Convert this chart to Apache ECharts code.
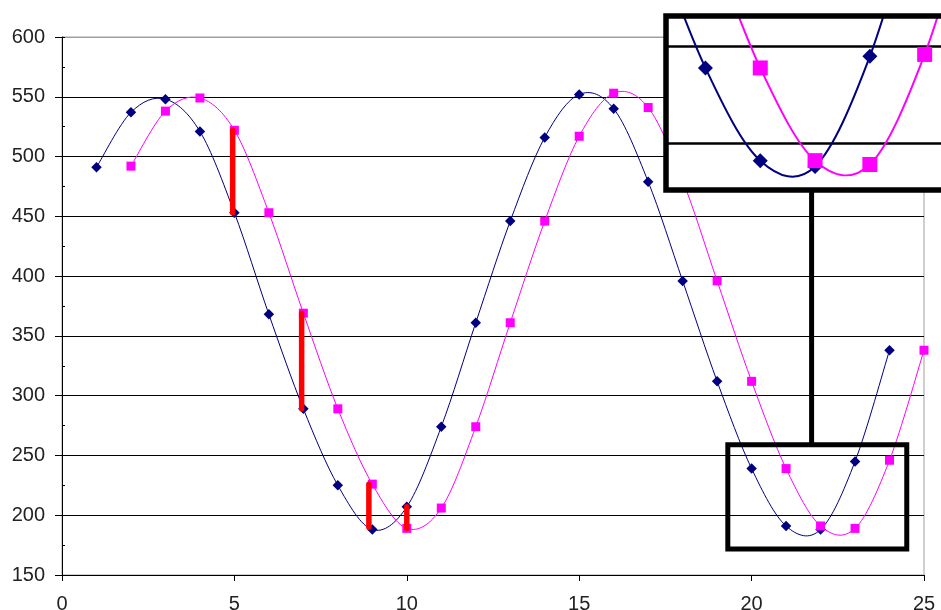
<!DOCTYPE html>
<html><head><meta charset="utf-8">
<script src="https://cdn.jsdelivr.net/npm/echarts@6/dist/echarts.min.js"></script>
<style>html,body{margin:0;padding:0;background:#fff}#c{width:941px;height:610px}</style>
</head><body><div id="c"></div>
<script>
// ---- data ----
const blueX = [1,2,3,4,5,6,7,8,9,10,11,12,13,14,15,16,17,18,19,20,21,22,23,24];
const blueValues = [491,537,548,521,453,368,289,225,188,207,274,361,446,516,552,540,479,396,312,239,191,188,245,338];
const pinkX = [2,3,4,5,6,7,8,9,10,11,12,13,14,15,16,17,18,19,20,21,22,23,24,25];
const pinkValues = [492,538,549,522,453,369,289,226,189,206,274,361,446,517,553,541,480,396,312,239,191,189,246,338];
// red gap bars: x position, low value, high value
const gapX = [4.95, 6.95, 8.9, 10.0];
const gapLow = [453, 289, 190, 189];
const gapHigh = [522, 369, 226, 207];
// axes
const xMin = 0, xMax = 25, xStep = 5;
const yMin = 150, yMax = 600, yStep = 50, yMinorStep = 25;
// zoomed window (data space) shown in the inset
const zoomX = [19.31, 24.5], zoomY = [171.7, 258.9];
const insetX = [19.28, 25], insetY = [175.8, 265.9];
const insetGridValues = [200, 250];
const connectorX = 21.74;

const blueData = blueX.map((x, i) => [x, blueValues[i]]);
const pinkData = pinkX.map((x, i) => [x, pinkValues[i]]);

const NAVY = '#000080', PINK = '#ff00ff';
const FONT = 'Liberation Sans, Arial, sans-serif';

const chart = echarts.init(document.getElementById('c'), null, {renderer: 'canvas'});

const insetLeft = 666, insetTop = 16, insetH = 174;
const insetW = (insetX[1] - insetX[0]) * 54.8;

const splitColors = [];
for (let v = yMin; v <= yMax; v += yStep) splitColors.push(v === yMax ? '#a0a0a0' : '#000');

// Excel-like smoothed line (Catmull-Rom segments through the axis scales)
function smoothLine(data, color, width, xi, yi, z) {
  return {
    type: 'custom', xAxisIndex: xi, yAxisIndex: yi, data: data, z: z, clip: true, silent: true,
    encode: {x: 0, y: 1},
    renderItem: function (params, api) {
      const i = params.dataIndex;
      if (i >= data.length - 1) return null;
      const P = k => api.coord(data[Math.max(0, Math.min(data.length - 1, k))]);
      const p0 = P(i - 1), p1 = P(i), p2 = P(i + 1), p3 = P(i + 2);
      return {
        type: 'bezierCurve',
        shape: {
          x1: p1[0], y1: p1[1], x2: p2[0], y2: p2[1],
          cpx1: p1[0] + (p2[0] - p0[0]) / 6, cpy1: p1[1] + (p2[1] - p0[1]) / 6,
          cpx2: p2[0] - (p3[0] - p1[0]) / 6, cpy2: p2[1] - (p3[1] - p1[1]) / 6
        },
        style: {stroke: color, lineWidth: width, fill: null}
      };
    }
  };
}
function markers(data, color, symbol, size, xi, yi, z) {
  return {type: 'scatter', xAxisIndex: xi, yAxisIndex: yi, data: data, symbol: symbol,
    symbolSize: size, itemStyle: {color: color, opacity: 1}, z: z, silent: true, clip: true};
}

const series = [
  smoothLine(blueData, NAVY, 1, 0, 0, 2),
  smoothLine(pinkData, PINK, 1, 0, 0, 2),
  markers(blueData, NAVY, 'diamond', 10.5, 0, 0, 3),
  markers(pinkData, PINK, 'rect', 9, 0, 0, 3)
];
gapX.forEach((x, i) => {
  series.push({type: 'line', xAxisIndex: 0, yAxisIndex: 0, data: [[x, gapLow[i]], [x, gapHigh[i]]],
    symbol: 'none', lineStyle: {color: '#ff0000', width: 5.5, cap: 'round'}, z: 4, silent: true});
});
// inset
series.push(smoothLine(blueData, NAVY, 2, 1, 2, 12));
series.push(smoothLine(pinkData, PINK, 2, 1, 2, 12));
const insetBlue = markers(blueData, NAVY, 'diamond', 15, 1, 2, 13);
insetBlue.markLine = {silent: true, symbol: 'none', z: 11, label: {show: false},
  lineStyle: {color: '#000', width: 2.5, type: 'solid'},
  data: insetGridValues.map(v => ({yAxis: v}))};
series.push(insetBlue);
series.push(markers(pinkData, PINK, 'rect', 15, 1, 2, 13));

const option = {
  animation: false,
  backgroundColor: '#fff',
  grid: [
    {left: 62, top: 37, right: 17, bottom: 35, show: true, borderColor: '#a0a0a0', borderWidth: 1, z: 0,
     outerBoundsMode: 'none', containLabel: false},
    {left: insetLeft, top: insetTop, width: insetW, height: insetH, show: true,
     backgroundColor: '#fff', borderWidth: 0, z: 10, outerBoundsMode: 'none', containLabel: false}
  ],
  xAxis: [
    {type: 'value', gridIndex: 0, min: xMin, max: xMax, interval: xStep, z: 1,
     axisLine: {show: true, onZero: false, lineStyle: {color: '#000', width: 1}},
     axisTick: {show: true, length: 6, lineStyle: {color: '#000'}},
     axisLabel: {color: '#222', fontSize: 20, fontFamily: FONT, margin: 19},
     splitLine: {show: false}},
    {type: 'value', gridIndex: 1, min: insetX[0], max: insetX[1], z: 11,
     axisLine: {show: false}, axisTick: {show: false}, axisLabel: {show: false}, splitLine: {show: false}}
  ],
  yAxis: [
    {type: 'value', gridIndex: 0, min: yMin, max: yMax, interval: yStep, z: 1,
     axisLine: {show: true, onZero: false, lineStyle: {color: '#000', width: 1}},
     axisTick: {show: true, length: 7, lineStyle: {color: '#000'}},
     axisLabel: {color: '#222', fontSize: 20, fontFamily: FONT, margin: 17},
     splitLine: {show: true, lineStyle: {color: splitColors, width: 1}}},
    {type: 'value', gridIndex: 0, min: yMin, max: yMax, interval: yMinorStep, position: 'left', z: 1,
     axisLine: {show: false}, axisTick: {show: true, inside: true, length: 3, lineStyle: {color: '#000'}},
     axisLabel: {show: false}, splitLine: {show: false}},
    {type: 'value', gridIndex: 1, min: insetY[0], max: insetY[1], z: 11,
     axisLine: {show: false}, axisTick: {show: false}, axisLabel: {show: false}, splitLine: {show: false}}
  ],
  series: series
};
chart.setOption(option);

// annotation frames placed from data coordinates
const a = chart.convertToPixel({xAxisIndex: 0, yAxisIndex: 0}, [zoomX[0], zoomY[1]]);
const b = chart.convertToPixel({xAxisIndex: 0, yAxisIndex: 0}, [zoomX[1], zoomY[0]]);
const cx = chart.convertToPixel({xAxisIndex: 0, yAxisIndex: 0}, [connectorX, yMin])[0];
chart.setOption({
  graphic: [
    {type: 'rect', z: 20, silent: true,
     shape: {x: a[0], y: a[1], width: b[0] - a[0], height: b[1] - a[1]},
     style: {fill: null, stroke: '#000', lineWidth: 5}},
    {type: 'line', z: 20, silent: true,
     shape: {x1: cx, y1: insetTop + insetH, x2: cx, y2: a[1]},
     style: {stroke: '#000', lineWidth: 5}},
    {type: 'rect', z: 20, silent: true,
     shape: {x: insetLeft, y: insetTop, width: insetW, height: insetH},
     style: {fill: null, stroke: '#000', lineWidth: 5.5}}
  ]
});
</script></body></html>
